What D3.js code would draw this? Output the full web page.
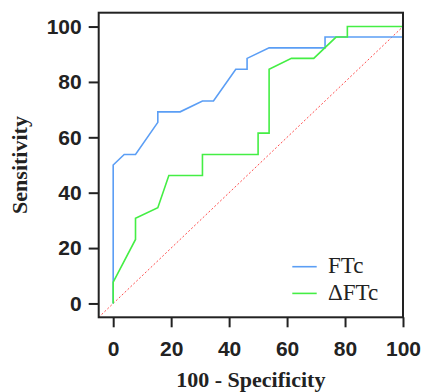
<!DOCTYPE html>
<html>
<head>
<meta charset="utf-8">
<script src="https://cdn.jsdelivr.net/npm/d3@7"></script>
<style>
  body { margin: 0; background: #fff; }
</style>
</head>
<body>
<script>
'use strict';

// ROC curve points (100 - specificity, sensitivity)
const ftcX = [0, 0, 3.8, 7.7, 15.4, 15.4, 23.1, 30.8, 34.6, 42.3, 46.2, 46.2, 53.8, 73.1, 73.1, 100, 100];
const ftcY = [0, 50, 53.8, 53.8, 65.4, 69.2, 69.2, 73.1, 73.1, 84.6, 84.6, 88.5, 92.3, 92.3, 96.2, 96.2, 100];

const dftcX = [0, 0, 7.7, 7.7, 15.4, 19.2, 30.8, 30.8, 50, 50, 53.8, 53.8, 61.5, 69.2, 76.9, 80.8, 80.8, 100];
const dftcY = [0, 7.7, 23.1, 30.8, 34.6, 46.2, 46.2, 53.8, 53.8, 61.5, 61.5, 84.6, 88.5, 88.5, 96.2, 96.2, 100, 100];

const tickValues = [0, 20, 40, 60, 80, 100];
const seriesNames = ['FTc', '\u0394FTc'];
const seriesColors = ['#5b9ef5', '#44ee44'];

const width = 423, height = 392;

const svg = d3.select('body').append('svg')
  .attr('width', width)
  .attr('height', height);

// scales
const x = d3.scaleLinear().domain([-5, 100]).range([98.7, 403]);
const y = d3.scaleLinear().domain([-5, 105]).range([317.3, 12.7]);

// reference diagonal
svg.append('line')
  .attr('x1', x(-5)).attr('y1', y(-5))
  .attr('x2', x(100)).attr('y2', y(100))
  .attr('stroke', '#ff4d4d')
  .attr('stroke-width', 1)
  .attr('stroke-dasharray', '2,2');

// curves
const line = d3.line().x(d => x(d[0])).y(d => y(d[1]));
const series = [
  d3.zip(ftcX, ftcY),
  d3.zip(dftcX, dftcY)
];
series.forEach((pts, i) => {
  svg.append('path')
    .datum(pts)
    .attr('d', line)
    .attr('fill', 'none')
    .attr('stroke', seriesColors[i])
    .attr('stroke-width', 1.6);
});

// frame
svg.append('rect')
  .attr('x', x(-5)).attr('y', y(105))
  .attr('width', x(100) - x(-5))
  .attr('height', y(-5) - y(105))
  .attr('fill', 'none')
  .attr('stroke', '#222')
  .attr('stroke-width', 2);

// axes
const xAxis = svg.append('g')
  .attr('transform', `translate(0, ${y(-5)})`)
  .call(d3.axisBottom(x).tickValues(tickValues).tickSize(10).tickPadding(14).tickSizeOuter(0));
const yAxis = svg.append('g')
  .attr('transform', `translate(${x(-5)}, 0)`)
  .call(d3.axisLeft(y).tickValues(tickValues).tickSize(10).tickPadding(7).tickSizeOuter(0));

[xAxis, yAxis].forEach(g => {
  g.select('.domain').remove();
  g.selectAll('.tick line').attr('stroke', '#222').attr('stroke-width', 2);
  g.selectAll('.tick text')
    .attr('fill', '#222')
    .style('font-family', '"Liberation Sans", Arial, sans-serif')
    .style('font-weight', 'bold')
    .style('font-size', '21px');
});

// axis titles
svg.append('text')
  .attr('x', (x(-5) + x(100)) / 2)
  .attr('y', 387)
  .attr('text-anchor', 'middle')
  .style('font-family', '"Liberation Serif", "Times New Roman", serif')
  .style('font-weight', 'bold')
  .style('font-size', '22px')
  .attr('fill', '#222')
  .text('100 - Specificity');

svg.append('text')
  .attr('transform', `translate(27, ${(y(-5) + y(105)) / 2}) rotate(-90)`)
  .attr('text-anchor', 'middle')
  .style('font-family', '"Liberation Serif", "Times New Roman", serif')
  .style('font-weight', 'bold')
  .style('font-size', '22px')
  .attr('fill', '#222')
  .text('Sensitivity');

// legend
const legend = svg.append('g');
seriesNames.forEach((name, i) => {
  const ly = 266.7 + i * 26.7;
  legend.append('line')
    .attr('x1', 292.3).attr('x2', 316.7)
    .attr('y1', ly).attr('y2', ly)
    .attr('stroke', seriesColors[i])
    .attr('stroke-width', 1.6);
  legend.append('text')
    .attr('x', 328)
    .attr('y', ly + 6.5)
    .style('font-family', '"Liberation Serif", "Times New Roman", serif')
    .style('font-size', '23px')
    .attr('fill', '#222')
    .text(name);
});
</script>
</body>
</html>
